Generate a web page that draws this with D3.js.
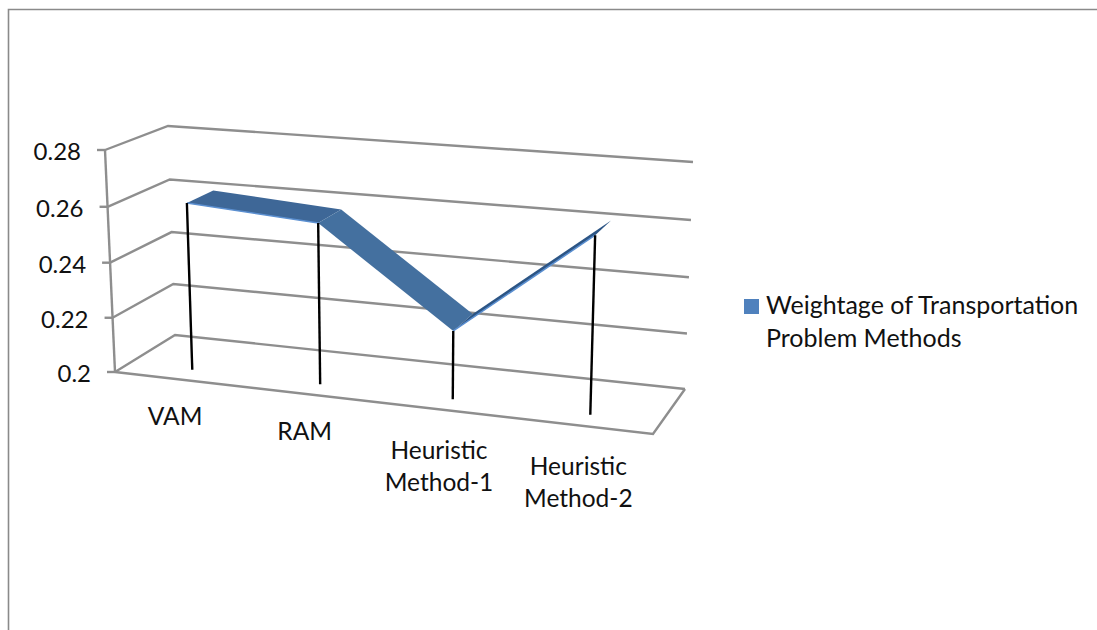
<!DOCTYPE html>
<html>
<head>
<meta charset="utf-8">
<script src="https://cdn.jsdelivr.net/npm/d3@7"></script>
<style>
  html, body { margin: 0; padding: 0; background: #fff; }
  svg { display: block; }
  text { font-family: Lato, "Open Sans", sans-serif; fill: #111; }
</style>
</head>
<body>
<svg id="chart"></svg>
<script>
const categories = ["VAM", "RAM", "Heuristic Method-1", "Heuristic Method-2"];
const weightage = [0.2608, 0.2576, 0.2242, 0.2614];
const yTicks = [0.2, 0.22, 0.24, 0.26, 0.28];
const yTickLabels = ["0.2", "0.22", "0.24", "0.26", "0.28"];
const seriesName = ["Weightage of Transportation", "Problem Methods"];
const categoryLines = [["VAM"], ["RAM"], ["Heuristic", "Method-1"], ["Heuristic", "Method-2"]];

function getConfig() {
  let width = 1097;
  let height = 630;
  // corners of the 3d box on screen: front/back, left/right, floor/top
  let box = {
    frontLeftFloor: [115, 372], frontRightFloor: [653, 434],
    backLeftFloor: [175, 335], backRightFloor: [685, 389],
    frontLeftTop: [105, 150], frontRightTop: [662, 192],
    backLeftTop: [168, 126], backRightTop: [693, 162]
  };
  let container = d3.select("#chart").attr("width", width).attr("height", height);
  return { width, height, box, container };
}

function getScales(config) {
  let { box } = config;
  let mix = (a, b, t) => [a[0] + (b[0] - a[0]) * t, a[1] + (b[1] - a[1]) * t];

  let xScale = d3.scaleBand().domain(categories).range([0, 1]);
  let yScale = d3.scaleLinear().domain([0.2, 0.28]).range([0, 1]);

  // the right side of the box is nearer the camera, so bands widen a bit.
  // same thing going up, the gridlines spread slightly
  let bend = (t, k) => t * (1 - k) / (1 - k * t);

  let project = (u, value, depth) => {
    let p = bend(u, 0.07);
    let v = bend(yScale(value), 0.03);
    let front = mix(mix(box.frontLeftFloor, box.frontRightFloor, p), mix(box.frontLeftTop, box.frontRightTop, p), v);
    let back = mix(mix(box.backLeftFloor, box.backRightFloor, p), mix(box.backLeftTop, box.backRightTop, p), v);
    return mix(front, back, depth);
  };
  let center = c => xScale(c) + xScale.bandwidth() / 2;

  return { xScale, yScale, project, center };
}

function drawFrame(config) {
  let { container, width, height } = config;
  container.append("path")
    .attr("d", `M8.5,${height}V9.5H${width}`)
    .attr("fill", "none")
    .attr("stroke", "#8a8a8a")
    .attr("stroke-width", 1.6);
}

function drawWalls(scales, config) {
  let { container } = config;
  let { project } = scales;
  let line = d3.line();
  let g = container.append("g")
    .attr("fill", "none")
    .attr("stroke", "#8e8e8e")
    .attr("stroke-width", 2.4);

  yTicks.forEach(t => {
    g.append("path").attr("d", line([project(0, t, 0), project(0, t, 1), project(1, t, 1)]));
    let p = project(0, t, 0);
    g.append("path").attr("d", line([[p[0] - 8, p[1]], p]));
  });
  g.append("path").attr("d", line([project(0, 0.2, 0), project(0, 0.28, 0)]));
  g.append("path").attr("d", line([project(0, 0.2, 0), project(1, 0.2, 0), project(1, 0.2, 1)]));

  container.append("g").selectAll("text").data(yTicks).enter().append("text")
    .attr("x", d => project(0, d, 0)[0] - 24)
    .attr("y", d => project(0, d, 0)[1] + 10)
    .attr("text-anchor", "end")
    .attr("font-size", 24)
    .text((d, i) => yTickLabels[i]);
}

function drawRibbon(scales, config) {
  let { container } = config;
  let { project, center } = scales;
  let nearDepth = 0.25;
  let farDepth = 0.7;
  let segmentFill = ["#3e6797", "#44709f", "#2c5585"];
  let pts = categories.map((c, i) => ({
    near: project(center(c), weightage[i], nearDepth),
    far: project(center(c), weightage[i], farDepth),
    floor: project(center(c), 0.2, nearDepth)
  }));
  let segments = d3.pairs(pts);

  container.append("g").selectAll("path").data(segments).enter().append("path")
    .attr("d", d => d3.line()([d[0].near, d[1].near, d[1].far, d[0].far]) + "Z")
    .attr("fill", (d, i) => segmentFill[i]);

  // light front edge only shows on the first and last stretch
  container.append("g").selectAll("line").data([segments[0], segments[2]]).enter().append("line")
    .attr("x1", d => d[0].near[0]).attr("y1", d => d[0].near[1])
    .attr("x2", d => d[1].near[0]).attr("y2", d => d[1].near[1])
    .attr("stroke", "#5b8fd0")
    .attr("stroke-width", 1.5);

  container.append("g").selectAll("line").data(pts).enter().append("line")
    .attr("x1", d => d.near[0]).attr("y1", d => d.near[1])
    .attr("x2", d => d.floor[0]).attr("y2", d => d.floor[1])
    .attr("stroke", "#000")
    .attr("stroke-width", 2.4);
}

function drawCategoryLabels(scales, config) {
  let { container } = config;
  let { project, center } = scales;
  let g = container.append("g").attr("text-anchor", "middle").attr("font-size", 24.5);
  categories.forEach((c, i) => {
    let p = project(center(c), 0.2, 0);
    let lines = categoryLines[i];
    lines.forEach((txt, j) => {
      g.append("text")
        .attr("x", p[0] - 3)
        .attr("y", p[1] + (lines.length > 1 ? 49 : 46) + j * 32)
        .text(txt);
    });
  });
}

function drawLegend(config) {
  let { container } = config;
  container.append("rect")
    .attr("x", 744).attr("y", 299).attr("width", 15).attr("height", 15)
    .attr("fill", "#4f81bd");
  seriesName.forEach((txt, i) => {
    container.append("text")
      .attr("x", 766)
      .attr("y", 314 + i * 33)
      .attr("font-size", 25)
      .text(txt);
  });
}

let config = getConfig();
let scales = getScales(config);
drawFrame(config);
drawWalls(scales, config);
drawRibbon(scales, config);
drawCategoryLabels(scales, config);
drawLegend(config);
</script>
</body>
</html>
